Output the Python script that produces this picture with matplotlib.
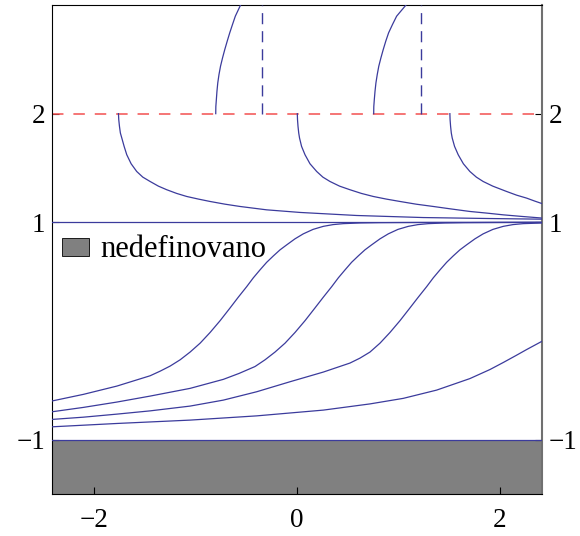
import matplotlib
matplotlib.use("Agg")
import matplotlib.pyplot as plt
from matplotlib.patches import Patch

# ---- data ----
x_limits = [-2.415, 2.415]
y_limits = [-1.5, 3.0]
x_ticks = [-2, 0, 2]
y_ticks = [-1, 1, 2]
y_ticks_labels = ["\u22121", "1", "2"]
x_ticks_labels = ["\u22122", "0", "2"]

equilibria = [1.0, -1.0]
singular_level = 2.0
undefined_top = -1.0
legend_label = "nedefinovano"

asymptotes_x = [-0.342, 1.219]

# curves above y = 2 (blow-up)
d1_x = [-0.801, -0.800, -0.795, -0.789, -0.781, -0.769, -0.754, -0.734, -0.712,
        -0.688, -0.663, -0.636, -0.608, -0.549]
d1_y = [2.0, 2.065, 2.129, 2.206, 2.283, 2.360, 2.436, 2.513, 2.590,
        2.667, 2.744, 2.820, 2.897, 3.014]
d2_x = [0.756, 0.757, 0.762, 0.769, 0.778, 0.791, 0.806, 0.827, 0.850,
        0.875, 0.903, 0.941, 0.982, 1.087]
d2_y = [2.0, 2.065, 2.129, 2.206, 2.283, 2.360, 2.436, 2.513, 2.590,
        2.667, 2.744, 2.820, 2.897, 3.014]

# curves between 1 and 2 (decreasing)
e1_x = [-1.760, -1.757, -1.750, -1.741, -1.727, -1.704, -1.678, -1.635, -1.580,
        -1.520, -1.448, -1.366, -1.284, -1.186, -1.087, -0.972, -0.857, -0.709,
        -0.562, -0.299, 0.030, 0.588, 1.244, 1.901, 2.42]
e1_y = [2.0, 1.945, 1.883, 1.822, 1.776, 1.699, 1.622, 1.539, 1.468,
        1.416, 1.376, 1.333, 1.300, 1.266, 1.238, 1.214, 1.192, 1.167,
        1.146, 1.115, 1.091, 1.063, 1.044, 1.035, 1.029]
e2_x = [0.003, 0.005, 0.010, 0.017, 0.025, 0.045, 0.079, 0.128, 0.194, 0.255,
        0.325, 0.420, 0.522, 0.635, 0.752, 0.880, 1.015, 1.175, 1.343, 1.520,
        1.704, 1.870, 2.033, 2.220, 2.42]
e2_y = [2.0, 1.945, 1.883, 1.822, 1.776, 1.699, 1.622, 1.539, 1.468, 1.416,
        1.376, 1.333, 1.300, 1.266, 1.238, 1.214, 1.192, 1.167, 1.146, 1.123,
        1.100, 1.085, 1.069, 1.054, 1.039]
e3_x = [1.507, 1.509, 1.514, 1.521, 1.530, 1.553, 1.589, 1.640, 1.704, 1.768,
        1.835, 1.930, 2.066, 2.165, 2.263, 2.345, 2.42]
e3_y = [2.0, 1.945, 1.883, 1.822, 1.776, 1.699, 1.622, 1.539, 1.468, 1.416,
        1.376, 1.333, 1.284, 1.250, 1.223, 1.195, 1.171]

# curves between -1 and 1 (increasing)
f1_x = [-2.42, -2.105, -1.776, -1.448, -1.350, -1.251, -1.152, -1.054, -0.955,
        -0.857, -0.758, -0.660, -0.578, -0.496, -0.430, -0.365, -0.299, -0.233,
        -0.167, -0.101, -0.020, 0.062, 0.158, 0.259, 0.355, 0.456, 0.621, 0.818,
        1.212, 2.42]
f1_y = [-0.645, -0.583, -0.507, -0.412, -0.370, -0.323, -0.265, -0.194, -0.112,
        -0.014, 0.095, 0.212, 0.312, 0.408, 0.490, 0.562, 0.632, 0.691,
        0.747, 0.793, 0.848, 0.894, 0.935, 0.963, 0.979, 0.988, 0.994, 0.997,
        0.999, 1.0]
f2_x = [-2.42, -2.105, -1.776, -1.448, -1.054, -0.726, -0.570, -0.414, -0.315,
        -0.217, -0.118, -0.020, 0.079, 0.177, 0.260, 0.342, 0.408, 0.473, 0.538,
        0.604, 0.670, 0.736, 0.818, 0.900, 0.995, 1.097, 1.192, 1.294, 1.458,
        1.655, 2.049, 2.42]
f2_y = [-0.744, -0.703, -0.654, -0.599, -0.528, -0.445, -0.390, -0.327, -0.265,
        -0.194, -0.112, -0.014, 0.095, 0.212, 0.312, 0.408, 0.490, 0.562, 0.632,
        0.691, 0.747, 0.793, 0.848, 0.894, 0.935, 0.963, 0.979, 0.988, 0.994,
        0.997, 0.999, 1.0]
f3_x = [-2.42, -2.105, -1.776, -1.448, -1.054, -0.726, -0.397, -0.069, 0.259,
        0.522, 0.620, 0.719, 0.818, 0.916, 1.015, 1.113, 1.196, 1.278, 1.344,
        1.409, 1.475, 1.540, 1.606, 1.672, 1.754, 1.835, 1.931, 2.033, 2.128,
        2.230, 2.42]
f3_y = [-0.814, -0.793, -0.765, -0.735, -0.691, -0.636, -0.559, -0.467, -0.378,
        -0.295, -0.250, -0.194, -0.112, -0.014, 0.095, 0.212, 0.312, 0.408, 0.490,
        0.562, 0.632, 0.691, 0.747, 0.793, 0.848, 0.894, 0.935, 0.963, 0.979,
        0.988, 0.994]
f4_x = [-2.42, -1.776, -1.054, -0.397, 0.259, 0.719, 1.047, 1.376, 1.704,
        1.901, 2.033, 2.158, 2.263, 2.42]
f4_y = [-0.882, -0.851, -0.820, -0.781, -0.728, -0.671, -0.620, -0.544, -0.438,
        -0.355, -0.290, -0.226, -0.171, -0.092]

# ---- styling ----
navy = "#3b3b9c"
red = "#f25050"
gray = "#808080"
font = ["Liberation Serif", "DejaVu Serif"]
fs = 19.5

plt.rcParams["font.family"] = font

fig = plt.figure(figsize=(5.8, 5.36), dpi=100)
ax = fig.add_axes([52 / 580, 1 - 494 / 536, 490 / 580, 489 / 536])

ax.set_xlim(*x_limits)
ax.set_ylim(*y_limits)

# undefined region
ax.axhspan(y_limits[0], undefined_top, facecolor=gray, edgecolor="none", zorder=1)

# equilibria
for yv in equilibria:
    ax.axhline(yv, color=navy, lw=0.9, zorder=3)

# singular level
ax.axhline(singular_level, color=red, lw=1.1, dashes=(7.5, 6.5), zorder=2)

# vertical asymptotes
for xa in asymptotes_x:
    ax.plot([xa, xa], [singular_level, y_limits[1]], color=navy, lw=1.0,
            dashes=(8, 5), zorder=3)

for xs, ys in [(d1_x, d1_y), (d2_x, d2_y), (e1_x, e1_y), (e2_x, e2_y),
               (e3_x, e3_y), (f1_x, f1_y), (f2_x, f2_y), (f3_x, f3_y),
               (f4_x, f4_y)]:
    ax.plot(xs, ys, color=navy, lw=0.9, zorder=3, solid_joinstyle="round")

# ticks
ax.set_xticks(x_ticks)
ax.set_xticklabels(x_ticks_labels)
ax.set_yticks(y_ticks)
ax.set_yticklabels(y_ticks_labels)
ax.tick_params(axis="x", direction="in", length=5, width=0.8, pad=10,
               labelsize=fs, top=False, bottom=True)
ax.tick_params(axis="y", direction="in", length=5, width=0.8, pad=5,
               labelsize=fs, left=True, right=True, labelleft=True,
               labelright=True)
for lab in ax.get_xticklabels() + ax.get_yticklabels():
    lab.set_family(font)

for side in ["left", "top", "bottom"]:
    ax.spines[side].set_color("black")
    ax.spines[side].set_linewidth(0.8)
ax.spines["right"].set_color("#707070")
ax.spines["right"].set_linewidth(1.5)

handle = Patch(facecolor=gray, edgecolor="black", linewidth=0.6)
ax.legend([handle], [legend_label], loc="center left",
          bbox_to_anchor=(0.0204, 0.499), frameon=False,
          handlelength=0.885, handleheight=0.52, handletextpad=0.36,
          borderpad=0, borderaxespad=0, prop={"family": font, "size": 22})

fig.savefig("out.png", dpi=100)
